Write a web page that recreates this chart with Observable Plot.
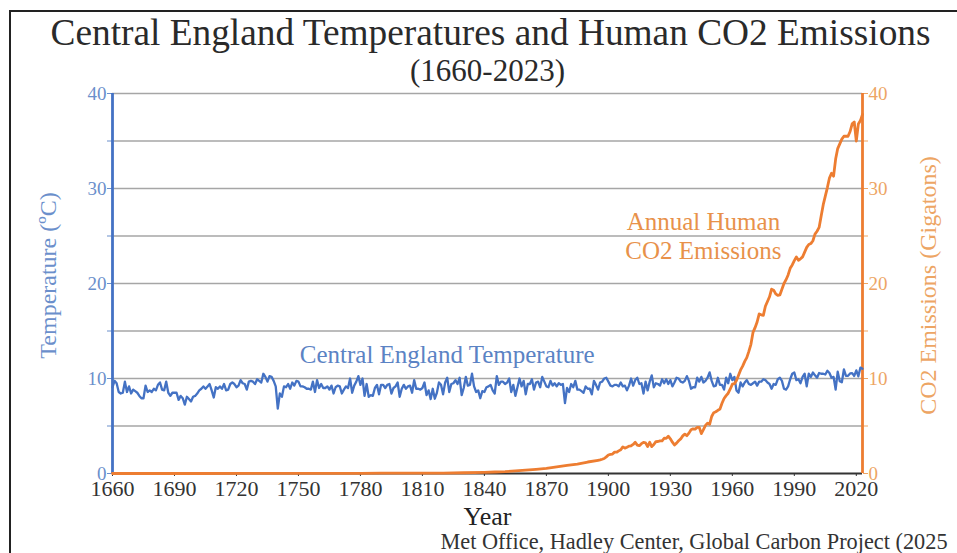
<!DOCTYPE html>
<html>
<head>
<meta charset="utf-8">
<script src="https://cdn.jsdelivr.net/npm/d3@7"></script>
<script src="https://cdn.jsdelivr.net/npm/@observablehq/plot@0.6"></script>
<style>
  html, body { margin: 0; padding: 0; background: #fff; }
  #wrap { position: relative; width: 957px; height: 553px; overflow: hidden; background: #fff; }
  #frameTop { position: absolute; left: 9px; top: 10px; right: 0; height: 2px; background: #222; }
  #frameLeft { position: absolute; left: 9px; top: 10px; bottom: 0; width: 2px; background: #222; }
  #chart { position: absolute; left: 0; top: 0; }
</style>
</head>
<body>
<div id="wrap">
  <div id="chart"></div>
  <div id="frameTop"></div>
  <div id="frameLeft"></div>
</div>
<script>
// ---- Data ----
const tempStartYear = 1660;
// Central England annual mean temperature (°C), 1660-2023
const temperatures = [
  9.08, 9.75, 9.50, 8.58, 8.42, 8.50, 9.67, 8.58, 9.17, 8.42,
  8.83, 8.67, 8.50, 8.17, 7.92, 7.92, 9.25, 8.58, 8.75, 8.58,
  8.92, 8.75, 9.33, 9.58, 8.83, 8.75, 9.67, 8.50, 8.17, 8.50,
  8.50, 8.50, 7.75, 8.17, 7.92, 7.25, 8.08, 7.83, 7.58, 8.08,
  8.17, 8.42, 8.75, 8.92, 9.17, 8.92, 9.17, 9.42, 8.75, 8.00,
  9.08, 8.92, 9.17, 8.92, 9.42, 8.75, 8.83, 9.42, 9.58, 9.42,
  9.08, 9.25, 9.83, 9.50, 9.42, 8.83, 9.67, 9.75, 9.67, 9.42,
  9.92, 9.75, 9.58, 10.50, 10.17, 9.67, 10.25, 10.17, 9.75, 9.17,
  6.84, 8.42, 8.08, 9.17, 9.08, 9.42, 8.92, 9.58, 9.25, 9.75,
  9.67, 9.17, 9.17, 9.08, 8.92, 8.92, 8.83, 9.67, 8.58, 9.83,
  9.00, 9.42, 9.00, 9.00, 9.17, 8.83, 9.25, 8.42, 9.08, 9.25,
  9.17, 8.42, 8.83, 9.17, 9.00, 10.00, 8.50, 9.25, 9.67, 10.25,
  9.33, 10.00, 8.17, 9.42, 8.08, 8.25, 8.17, 9.00, 9.33, 8.33,
  9.33, 9.33, 9.00, 9.33, 9.42, 8.42, 9.00, 9.17, 9.58, 8.08,
  8.92, 9.33, 8.92, 9.17, 9.25, 8.50, 9.83, 8.92, 8.92, 8.83,
  9.00, 9.58, 8.25, 8.75, 7.83, 8.92, 7.87, 8.50, 9.58, 9.33,
  8.33, 9.58, 10.08, 8.58, 9.42, 9.50, 9.83, 9.42, 10.08, 8.25,
  9.00, 10.17, 9.25, 9.33, 10.50, 9.17, 8.58, 8.75, 7.92, 8.67,
  8.58, 9.08, 9.17, 9.33, 8.75, 8.42, 10.25, 9.33, 9.67, 9.67,
  9.42, 9.58, 10.00, 8.58, 9.33, 8.17, 9.08, 10.00, 9.17, 9.75,
  8.33, 9.42, 9.42, 9.92, 8.83, 9.58, 9.67, 9.08, 10.17, 9.67,
  9.17, 9.08, 9.75, 9.25, 9.50, 9.17, 9.50, 9.33, 9.42, 7.42,
  9.00, 8.58, 9.42, 9.08, 9.75, 8.83, 8.83, 8.67, 8.50, 9.17,
  8.92, 8.92, 8.33, 9.75, 9.33, 8.83, 9.58, 9.67, 10.00, 10.08,
  9.67, 9.25, 9.17, 9.33, 9.33, 9.17, 9.58, 9.17, 9.25, 8.75,
  9.25, 10.00, 9.25, 9.83, 10.08, 9.42, 9.50, 8.42, 9.67, 8.75,
  9.67, 10.33, 9.08, 9.50, 9.42, 9.25, 9.92, 9.50, 9.92, 9.42,
  9.83, 9.17, 9.58, 10.08, 10.00, 9.67, 9.58, 9.75, 10.25, 9.75,
  8.92, 9.08, 9.08, 10.08, 9.67, 10.17, 9.58, 9.75, 10.08, 10.65,
  9.75, 9.17, 9.25, 10.08, 9.33, 9.33, 8.83, 10.08, 9.50, 10.50,
  9.83, 10.17, 8.75, 8.50, 9.58, 9.17, 9.58, 9.83, 9.42, 9.33,
  9.50, 9.67, 9.25, 9.67, 9.67, 9.92, 9.83, 9.58, 9.42, 8.92,
  9.42, 9.33, 9.92, 10.08, 9.75, 8.92, 8.83, 9.17, 9.92, 10.50,
  10.63, 9.83, 9.92, 9.50, 10.17, 10.50, 9.17, 10.50, 10.17, 10.63,
  10.33, 10.08, 10.58, 10.50, 10.50, 10.42, 10.82, 10.58, 10.08, 10.17,
  8.83, 10.72, 9.71, 9.60, 10.95, 10.27, 10.29, 10.53, 10.56, 10.27,
  10.86, 10.23, 11.15, 11.03
];

// Annual human CO2 emissions (Gt)
const co2Years = [
  1660, 1700, 1750, 1760, 1770, 1780, 1790, 1800, 1810, 1820, 1830, 1840, 1845,
  1850, 1855, 1860, 1865, 1870, 1875, 1880, 1885, 1890, 1895, 1896, 1897, 1898, 1899,
  1900, 1901, 1902, 1903, 1904, 1905, 1906, 1907, 1908, 1909,
  1910, 1911, 1912, 1913, 1914, 1915, 1916, 1917, 1918, 1919,
  1920, 1921, 1922, 1923, 1924, 1925, 1926, 1927, 1928, 1929,
  1930, 1931, 1932, 1933, 1934, 1935, 1936, 1937, 1938, 1939,
  1940, 1941, 1942, 1943, 1944, 1945, 1946, 1947, 1948, 1949,
  1950, 1951, 1952, 1953, 1954, 1955, 1956, 1957, 1958, 1959,
  1960, 1961, 1962, 1963, 1964, 1965, 1966, 1967, 1968, 1969,
  1970, 1971, 1972, 1973, 1974, 1975, 1976, 1977, 1978, 1979,
  1980, 1981, 1982, 1983, 1984, 1985, 1986, 1987, 1988, 1989,
  1990, 1991, 1992, 1993, 1994, 1995, 1996, 1997, 1998, 1999,
  2000, 2001, 2002, 2003, 2004, 2005, 2006, 2007, 2008, 2009,
  2010, 2011, 2012, 2013, 2014, 2015, 2016, 2017, 2018, 2019,
  2020, 2021, 2022, 2023
];
const co2Values = [
  0, 0, 0.01, 0.01, 0.02, 0.02, 0.03, 0.03, 0.04, 0.05, 0.08, 0.12, 0.16,
  0.20, 0.27, 0.35, 0.44, 0.54, 0.69, 0.85, 0.99, 1.21, 1.39, 1.43, 1.50, 1.58, 1.75,
  1.95, 2.01, 2.05, 2.25, 2.24, 2.38, 2.50, 2.80, 2.67, 2.76,
  2.88, 2.92, 3.06, 3.29, 2.99, 2.93, 3.14, 3.28, 3.22, 2.84,
  3.29, 2.83, 3.05, 3.35, 3.37, 3.44, 3.43, 3.71, 3.70, 3.93,
  3.65, 3.30, 3.00, 3.20, 3.45, 3.64, 3.96, 4.15, 3.98, 4.25,
  4.60, 4.70, 4.68, 4.85, 4.85, 4.20, 4.61, 5.06, 5.30, 5.17,
  6.00, 6.40, 6.50, 6.65, 6.78, 7.40, 7.90, 8.20, 8.45, 8.90,
  9.40, 9.45, 9.80, 10.35, 10.90, 11.30, 11.80, 12.20, 12.85, 13.60,
  14.85, 15.35, 15.95, 16.80, 16.70, 16.65, 17.60, 18.10, 18.60, 19.40,
  19.30, 18.90, 18.75, 18.80, 19.40, 20.00, 20.40, 20.90, 21.60, 21.95,
  22.40, 22.80, 22.45, 22.60, 22.80, 23.30, 23.80, 24.10, 24.20, 24.50,
  25.20, 25.50, 25.90, 27.10, 28.30, 29.20, 30.10, 31.10, 31.60, 31.30,
  33.10, 34.20, 34.70, 35.20, 35.50, 35.50, 35.50, 36.00, 36.80, 37.00,
  35.00, 36.80, 37.15, 37.80
];

const xTicks = [1660, 1690, 1720, 1750, 1780, 1810, 1840, 1870, 1900, 1930, 1960, 1990, 2020];
const yTicks = [0, 5, 10, 15, 20, 25, 30, 35, 40];
const gridValues = [5, 10, 15, 20, 25, 30, 35, 40];

const titleText = "Central England Temperatures and Human CO2 Emissions";
const subtitleText = "(1660-2023)";
const leftLabel = "Temperature (ºC)";
const rightLabel = "CO2 Emissions (Gigatons)";
const xLabel = "Year";
const captionText = "Met Office, Hadley Center, Global Carbon Project (2025";
const tempLabel = "Central England Temperature";
const co2Label = "Annual Human\nCO2 Emissions";

// ---- Build tables ----
const tempData = temperatures.map((v, i) => ({ year: tempStartYear + i, value: v }));
const co2Data = co2Years.map((y, i) => ({ year: y, value: co2Values[i] }));

const blue = "#4472C4";
const orange = "#ED7D31";
const serif = "'Liberation Serif', 'DejaVu Serif', serif";

const chart = Plot.plot({
  width: 957,
  height: 553,
  marginLeft: 112,
  marginRight: 95,
  marginTop: 93,
  marginBottom: 80,
  style: { fontFamily: serif, background: "transparent", overflow: "visible" },
  x: { domain: [1660, 2023] },
  y: { domain: [0, 40] },
  marks: [
    Plot.ruleY(gridValues, { stroke: "#a6a6a6", strokeWidth: 1.6 }),
    Plot.ruleY([0], { stroke: "#333", strokeWidth: 2.2 }),
    Plot.axisX({ ticks: xTicks, tickFormat: d => String(d), tickSize: 3, tickPadding: 4, fontSize: 22, color: "#333", label: null }),
    Plot.axisY({ anchor: "left", ticks: yTicks, tickFormat: d => d % 10 === 0 ? String(d) : "", tickSize: 5, tickPadding: 1, fontSize: 19, color: "#6b8fcb", label: null }),
    Plot.axisY({ anchor: "right", ticks: yTicks, tickFormat: d => d % 10 === 0 ? String(d) : "", tickSize: 5, tickPadding: 1, fontSize: 19, color: "#eda564", label: null }),
    Plot.ruleX([1660], { stroke: blue, strokeWidth: 2.8 }),
    Plot.ruleX([2023], { stroke: orange, strokeWidth: 2.8 }),
    Plot.line(tempData, { x: "year", y: "value", stroke: blue, strokeWidth: 2.3 }),
    Plot.line(co2Data, { x: "year", y: "value", stroke: orange, strokeWidth: 2.8 }),
    Plot.text([tempLabel], { x: 1822, y: 12.5, text: d => d, fill: "#5b83c4", fontSize: 25, textAnchor: "middle" }),
    Plot.text([co2Label], { x: 1946, y: 25.1, text: d => d, fill: "#e8914a", fontSize: 25, textAnchor: "middle", lineHeight: 1.16 }),
    // titles and axis labels
    Plot.text([titleText], { frameAnchor: "top", lineAnchor: "top", text: d => d, dx: 3, dy: -75, fontSize: 38, fill: "#2a2a2a" }),
    Plot.text([subtitleText], { frameAnchor: "top", lineAnchor: "top", text: d => d, dy: -35, fontSize: 31, fill: "#2a2a2a" }),
    Plot.text([leftLabel], { frameAnchor: "left", textAnchor: "middle", lineAnchor: "middle", text: d => d, dx: -64, dy: -8, rotate: -90, fontSize: 24, fill: "#6b8fcb" }),
    Plot.text([rightLabel], { frameAnchor: "right", textAnchor: "middle", lineAnchor: "middle", text: d => d, dx: 66, dy: 2, rotate: -90, fontSize: 24, fill: "#eda564" }),
    Plot.text([xLabel], { frameAnchor: "bottom", lineAnchor: "bottom", text: d => d, dy: 51, fontSize: 26, fill: "#222" }),
    Plot.text([captionText], { frameAnchor: "bottom-left", lineAnchor: "bottom", text: d => d, textAnchor: "start", dx: 328, dy: 75, fontSize: 22.3, fill: "#333" })
  ]
});
// fit the title to the reference width
d3.select(chart).selectAll("text").filter(function () { return this.textContent === titleText; })
  .attr("textLength", 880).attr("lengthAdjust", "spacingAndGlyphs");
document.getElementById("chart").appendChild(chart);
</script>
</body>
</html>
